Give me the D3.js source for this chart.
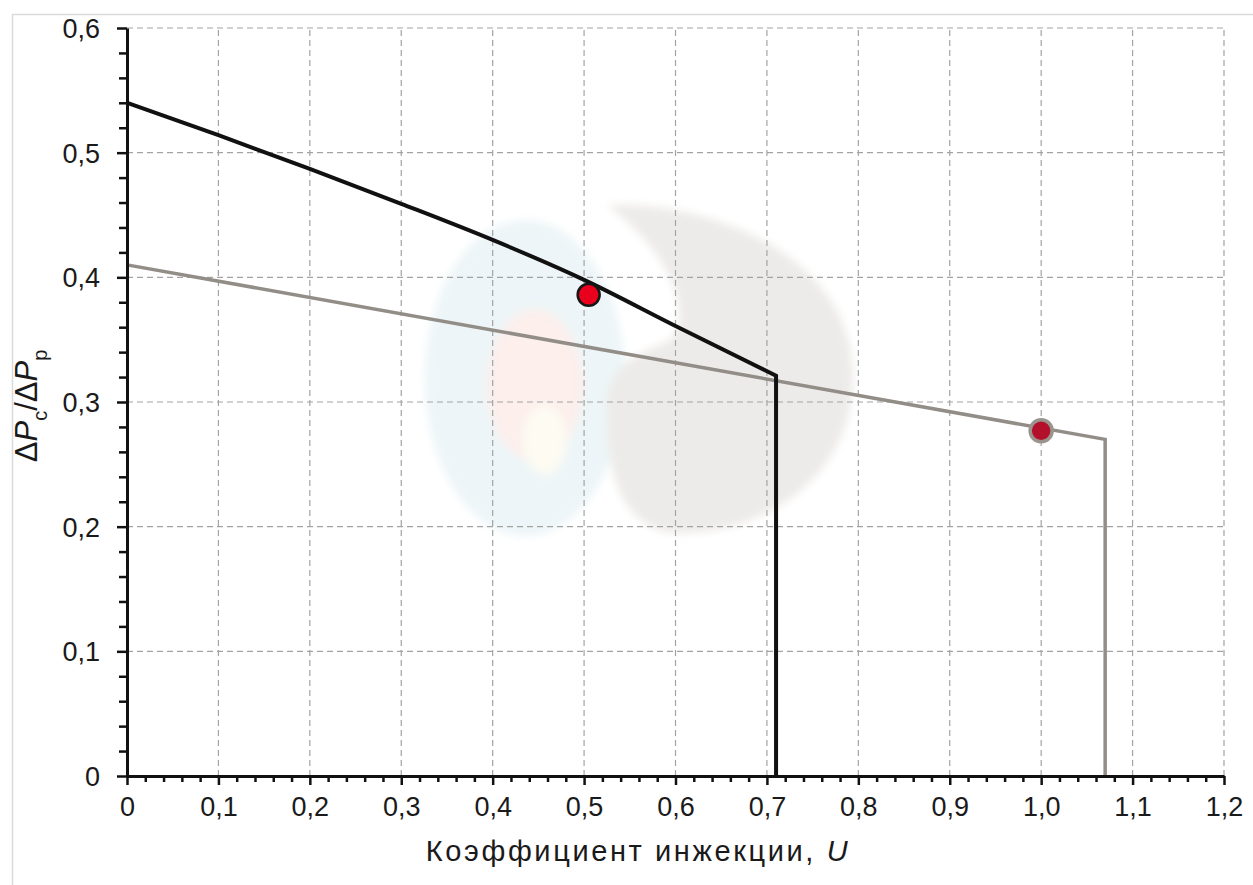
<!DOCTYPE html>
<html lang="ru">
<head>
<meta charset="utf-8">
<title>Коэффициент инжекции</title>
<script src="https://cdn.jsdelivr.net/npm/d3@7"></script>
<style>
 body { margin: 0; background: #fff; }
 svg { display: block; font-family: "Liberation Sans", Arial, sans-serif; }
</style>
</head>
<body>
<div id="graph"></div>
<script>
// data
const blackU = [0, 0.1, 0.2, 0.3, 0.4, 0.5, 0.6, 0.71, 0.71];
const blackR = [0.540, 0.514, 0.487, 0.459, 0.430, 0.398, 0.361, 0.321, 0];
const grayU = [0, 1.07, 1.07];
const grayR = [0.41, 0.27, 0];
const pointU = [0.505, 1.0];
const pointR = [0.386, 0.277];
const xTicks = [0, 0.1, 0.2, 0.3, 0.4, 0.5, 0.6, 0.7, 0.8, 0.9, 1.0, 1.1, 1.2];
const yTicks = [0, 0.1, 0.2, 0.3, 0.4, 0.5, 0.6];

const W = 1253, H = 885;
const x = d3.scaleLinear().domain([0, 1.2]).range([127, 1224]);
const y = d3.scaleLinear().domain([0, 0.6]).range([776, 28]);

const loc = d3.formatLocale({decimal: ",", thousands: " ", grouping: [3], currency: ["", ""]});
const fmt = d => d === 0 ? "0" : loc.format(".1f")(d);

const svg = d3.select("#graph").append("svg")
    .attr("width", W).attr("height", H);
svg.append("rect").attr("width", W).attr("height", H).attr("fill", "#fff");

// outer frame (only top and left visible)
svg.append("path")
    .attr("d", `M12.5,${H} V14.5 H${W}`)
    .attr("fill", "none").attr("stroke", "#dadada").attr("stroke-width", 1.5);

// faint watermark behind the plot
const defs = svg.append("defs");
defs.append("filter").attr("id", "soft").append("feGaussianBlur").attr("stdDeviation", 4);
const wm = svg.append("g").attr("filter", "url(#soft)");
wm.append("ellipse").attr("cx", 525).attr("cy", 378).attr("rx", 100).attr("ry", 158).attr("fill", "#edf5f8");
wm.append("ellipse").attr("cx", 535).attr("cy", 385).attr("rx", 48).attr("ry", 76).attr("fill", "#fcefec");
wm.append("ellipse").attr("cx", 545).attr("cy", 440).attr("rx", 22).attr("ry", 35).attr("fill", "#fdfbf2");
wm.append("path")
    .attr("d", "M607,205 C700,200 853,250 853,377 C853,480 760,535 677,533 C620,530 605,470 607,400 C609,360 650,350 670,340 C690,320 680,260 607,205 Z")
    .attr("fill", "#edebe9");

// grid
const grid = svg.append("g").attr("stroke", "#a3a3a3").attr("stroke-width", 1.2)
    .attr("stroke-dasharray", "6,4");
grid.selectAll(".gx").data(xTicks.filter(d => d > 0)).enter().append("line")
    .attr("x1", d => x(d)).attr("x2", d => x(d))
    .attr("y1", y(0)).attr("y2", y(0.6));
grid.selectAll(".gy").data(yTicks.filter(d => d > 0)).enter().append("line")
    .attr("x1", x(0)).attr("x2", x(1.2))
    .attr("y1", d => y(d)).attr("y2", d => y(d));

// lines
const line = d3.line().x(d => x(d[0])).y(d => y(d[1]));
const curve = d3.line().x(d => x(d[0])).y(d => y(d[1])).curve(d3.curveMonotoneX);
svg.append("path")
    .attr("d", line(grayU.map((u, i) => [u, grayR[i]])))
    .attr("fill", "none").attr("stroke", "#928d87").attr("stroke-width", 3.5);
const blackPts = blackU.map((u, i) => [u, blackR[i]]);
const n = blackPts.length;
svg.append("path")
    .attr("d", curve(blackPts.slice(0, n - 1)) + line(blackPts.slice(n - 2)).replace(/^M/, "L"))
    .attr("fill", "none").attr("stroke", "#111").attr("stroke-width", 4)
    .attr("stroke-linejoin", "miter");

// axes
const minorX = d3.range(0, 61).map(i => i * 0.02).filter((d, i) => i % 5 !== 0);
const minorY = d3.range(0, 31).map(i => i * 0.02).filter((d, i) => i % 5 !== 0);

const xAxis = svg.append("g").attr("transform", `translate(0,${y(0)})`)
    .call(d3.axisBottom(x).tickValues(xTicks).tickFormat(fmt).tickSize(9).tickSizeOuter(0).tickPadding(12));
const xMinor = svg.append("g").attr("transform", `translate(0,${y(0)})`)
    .call(d3.axisBottom(x).tickValues(minorX).tickFormat("").tickSize(6).tickSizeOuter(0));
const yAxis = svg.append("g").attr("transform", `translate(${x(0)},0)`)
    .call(d3.axisLeft(y).tickValues(yTicks).tickFormat(fmt).tickSize(10).tickSizeOuter(0).tickPadding(17));
const yMinor = svg.append("g").attr("transform", `translate(${x(0)},0)`)
    .call(d3.axisLeft(y).tickValues(minorY).tickFormat("").tickSize(8).tickSizeOuter(0));

[xAxis, xMinor, yAxis, yMinor].forEach(g => {
  g.selectAll("line").attr("stroke", "#111").attr("stroke-width", 2.5);
  g.select(".domain").attr("stroke", "#111").attr("stroke-width", 3);
  g.selectAll("text").attr("fill", "#1a1a1a").style("font-size", "27px")
   .style("font-family", "'Liberation Sans', Arial, sans-serif");
});
xMinor.select(".domain").remove();
yMinor.select(".domain").remove();
yAxis.selectAll("text").attr("dy", "0.35em");

// points
const pStyle = [
  {fill: "#e8001c", stroke: "#161616", sw: 2.5, r: 11},
  {fill: "#b3112b", stroke: "#9a948e", sw: 3.5, r: 11}
];
svg.selectAll(".pt").data(pointU).enter().append("circle")
    .attr("cx", d => x(d))
    .attr("cy", (d, i) => y(pointR[i]))
    .attr("r", (d, i) => pStyle[i].r)
    .attr("fill", (d, i) => pStyle[i].fill)
    .attr("stroke", (d, i) => pStyle[i].stroke)
    .attr("stroke-width", (d, i) => pStyle[i].sw);

// x title
const xt = svg.append("text")
    .attr("x", 638).attr("y", 861)
    .attr("text-anchor", "middle")
    .style("font-size", "29px").style("letter-spacing", "2.6px")
    .attr("fill", "#1a1a1a");
xt.append("tspan").text("Коэффициент инжекции, ");
xt.append("tspan").style("font-style", "italic").text("U");

// y title
const yt = svg.append("text")
    .attr("transform", "translate(37,406) rotate(-90)")
    .attr("text-anchor", "middle")
    .style("font-size", "31px")
    .attr("fill", "#1a1a1a");
yt.append("tspan").text("Δ");
yt.append("tspan").style("font-style", "italic").text("P");
yt.append("tspan").attr("dy", 10).style("font-size", "20px").text("c");
yt.append("tspan").attr("dy", -10).text("/Δ");
yt.append("tspan").style("font-style", "italic").text("P");
yt.append("tspan").attr("dy", 10).style("font-size", "20px").text("p");
</script>
</body>
</html>
